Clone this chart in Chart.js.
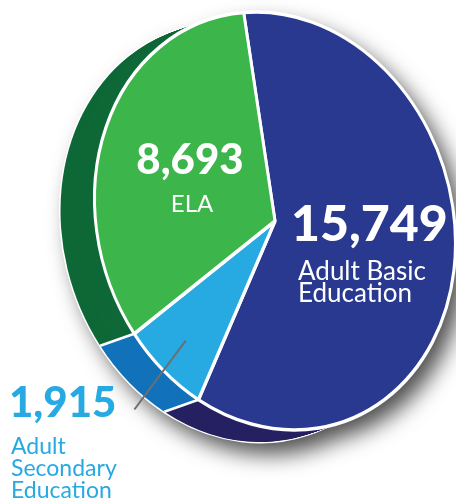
<!DOCTYPE html>
<html>
<head>
<meta charset="utf-8">
<script src="https://cdn.jsdelivr.net/npm/chart.js@4/dist/chart.umd.min.js"></script>
<style>
  html, body { margin: 0; padding: 0; background: #ffffff; }
  canvas { display: block; }
</style>
</head>
<body>
<canvas id="c" width="456" height="501"></canvas>
<script>
// ---- data ----
const categories = ['Adult Basic Education', 'Adult Secondary Education', 'ELA'];
const values = [15749, 1915, 8693];
const valueLabels = ['15,749', '1,915', '8,693'];
const nameLines = [['Adult Basic', 'Education'], ['Adult', 'Secondary', 'Education'], ['ELA']];

// ---- styles ----
const faceColors = ['#2a3990', '#27a9e1', '#3cb54a'];
const sideColors = ['#262262', '#1172ba', '#0e6837'];

// ellipse (tilted disc) projection, screen space
const CX = 275, CY = 221;            // centre of front face
const MX = 180.5, MQ = 22.2, MY = 207.8; // affine of unit circle
const DX = -34, DY = 12;             // depth extrusion
const LAYERS = 34;

function toScreen(ux, uy, c0x, c0y, R) {
  const x = (ux - c0x) / R, y = (uy - c0y) / R;
  return [CX + MX * x, CY + MQ * x + MY * y];
}

const pie3d = {
  id: 'pie3d',
  beforeDatasetsDraw(chart) {
    const ctx = chart.ctx;
    const arcs = chart.getDatasetMeta(0).data;
    const a0 = arcs[0];
    const c0x = a0.x, c0y = a0.y, R = a0.outerRadius;
    const apply = (dx, dy) => {
      ctx.translate(CX + dx, CY + dy);
      ctx.transform(MX / R, MQ / R, 0, MY / R, 0, 0);
      ctx.translate(-c0x, -c0y);
    };
    // drop shadow
    ctx.save();
    ctx.beginPath();
    ctx.save(); apply(0, 0); ctx.moveTo(c0x + R, c0y); ctx.arc(c0x, c0y, R, 0, Math.PI * 2); ctx.restore();
    ctx.save(); apply(DX, DY); ctx.moveTo(c0x + R, c0y); ctx.arc(c0x, c0y, R, 0, Math.PI * 2); ctx.restore();
    ctx.shadowColor = 'rgba(0,0,0,0.7)';
    ctx.shadowBlur = 22;
    ctx.shadowOffsetX = 10;
    ctx.shadowOffsetY = 12;
    ctx.fillStyle = '#ffffff';
    ctx.fill();
    ctx.restore();

    // outline of the farthest side layer
    ctx.save();
    ctx.beginPath();
    ctx.save(); apply(DX, DY); ctx.arc(c0x, c0y, R, 0, Math.PI * 2); ctx.restore();
    ctx.lineWidth = 3;
    ctx.strokeStyle = '#ffffff';
    ctx.stroke();
    ctx.restore();

    // side (depth) layers
    for (let s = LAYERS; s >= 1; s--) {
      ctx.save();
      apply(DX * s / LAYERS, DY * s / LAYERS);
      arcs.forEach((arc, i) => {
        ctx.beginPath();
        ctx.moveTo(c0x, c0y);
        ctx.arc(c0x, c0y, R, arc.startAngle, arc.endAngle);
        ctx.closePath();
        ctx.fillStyle = sideColors[i];
        ctx.fill();
      });
      ctx.restore();
    }
    // side separators
    ctx.save();
    ctx.strokeStyle = '#ffffff';
    ctx.lineWidth = 2.5;
    arcs.forEach(arc => {
      const p = toScreen(c0x + R * Math.cos(arc.startAngle), c0y + R * Math.sin(arc.startAngle), c0x, c0y, R);
      ctx.beginPath();
      ctx.moveTo(p[0], p[1]);
      ctx.lineTo(p[0] + DX, p[1] + DY);
      ctx.stroke();
    });
    ctx.restore();

    // front face transform for the library's own arc drawing
    ctx.save();
    apply(0, 0);
  },
  afterDatasetsDraw(chart) {
    const ctx = chart.ctx;
    ctx.restore();
    const arcs = chart.getDatasetMeta(0).data;
    const a0 = arcs[0];
    const c0x = a0.x, c0y = a0.y, R = a0.outerRadius;

    // leader line for Adult Secondary Education
    const ase = arcs[1];
    const mid = (ase.startAngle + ase.endAngle) / 2;
    const p1 = toScreen(c0x + 0.8 * R * Math.cos(mid), c0y + 0.8 * R * Math.sin(mid), c0x, c0y, R);
    const p2 = toScreen(c0x + 1.26 * R * Math.cos(mid), c0y + 1.26 * R * Math.sin(mid), c0x, c0y, R);
    ctx.save();
    ctx.strokeStyle = '#6d6e71';
    ctx.lineWidth = 2;
    ctx.beginPath();
    ctx.moveTo(p1[0], p1[1]);
    ctx.lineTo(p2[0], p2[1]);
    ctx.stroke();

    // labels
    ctx.textBaseline = 'alphabetic';
    // ELA
    ctx.fillStyle = '#ffffff';
    ctx.textAlign = 'center';
    ctx.font = '900 42px Lato';
    ctx.fillText(valueLabels[2], 190, 174);
    ctx.font = '24px Lato';
    ctx.fillText(nameLines[2][0], 192, 212);
    // Adult Basic Education
    ctx.textAlign = 'left';
    ctx.font = '900 50px Lato';
    ctx.fillText(valueLabels[0], 291, 241);
    ctx.font = '26px Lato';
    ctx.fillText(nameLines[0][0], 298, 280);
    ctx.fillText(nameLines[0][1], 298, 302);
    // Adult Secondary Education
    ctx.fillStyle = '#27a9e1';
    ctx.font = '900 42px Lato';
    ctx.fillText(valueLabels[1], 9, 417);
    ctx.font = '23px Lato';
    ctx.fillText(nameLines[1][0], 11, 454);
    ctx.fillText(nameLines[1][1], 11, 476);
    ctx.fillText(nameLines[1][2], 11, 498);
    ctx.restore();
  }
};

new Chart(document.getElementById('c'), {
  type: 'pie',
  data: {
    labels: categories,
    datasets: [{
      data: values,
      backgroundColor: faceColors,
      borderColor: '#ffffff',
      borderWidth: 3.5,
      clip: false
    }]
  },
  options: {
    responsive: false,
    animation: false,
    events: [],
    rotation: -10,
    layout: { padding: 20 },
    plugins: { legend: { display: false }, tooltip: { enabled: false } }
  },
  plugins: [pie3d]
});
</script>
</body>
</html>
